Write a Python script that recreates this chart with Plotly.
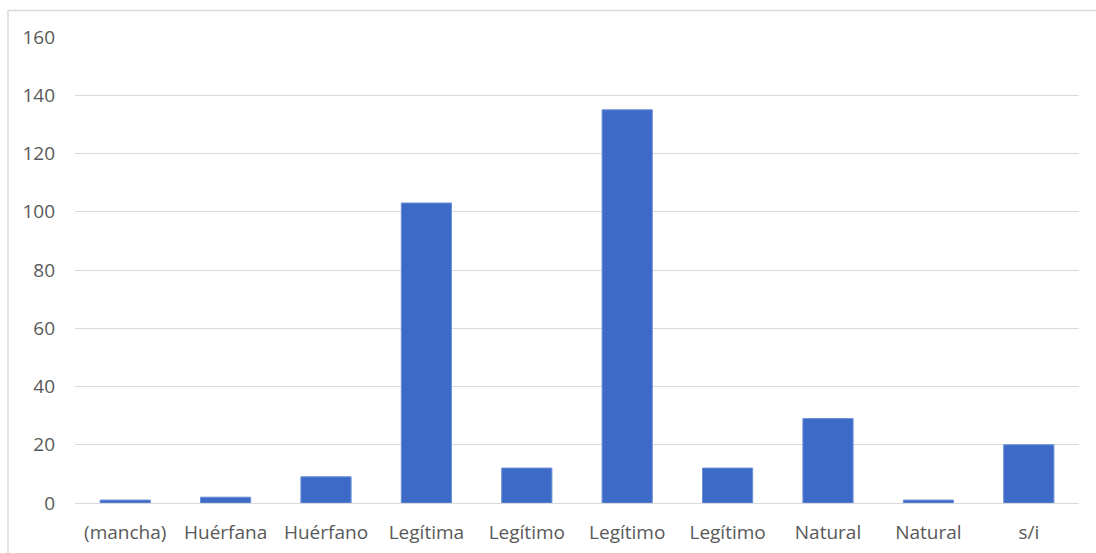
import plotly.graph_objects as go

categories = ["(mancha)", "Huérfana", "Huérfano", "Legítima", "Legítimo",
              "Legítimo", "Legítimo", "Natural", "Natural", "s/i"]
values = [1, 2, 9, 103, 12, 135, 12, 29, 1, 20]
y_ticks = [0, 20, 40, 60, 80, 100, 120, 140, 160]

positions = list(range(len(categories)))

W, H = 1096, 553
L, R, T, B = 75, 17, 37, 50
pw, ph = W - L - R, H - T - B

fig = go.Figure(go.Bar(
    x=positions, y=values,
    marker=dict(color="#3D6AC6", line=dict(color="#6C90D8", width=1)),
    width=0.5,
    hoverinfo="y",
))

fig.update_layout(
    width=W, height=H,
    margin=dict(l=L, r=R, t=T, b=B, autoexpand=False),
    paper_bgcolor="white", plot_bgcolor="white",
    showlegend=False,
    font=dict(family="Open Sans, Lato, sans-serif", size=19, color="#595959"),
    xaxis=dict(
        range=[-0.5, len(categories) - 0.5],
        tickmode="array", tickvals=positions, ticktext=categories,
        showgrid=False, zeroline=False, showline=False, ticks="",
        ticklabelstandoff=16, automargin=False,
        tickfont=dict(size=19, color="#595959"),
    ),
    yaxis=dict(
        range=[0, 160], tickmode="array", tickvals=y_ticks,
        showgrid=True, gridcolor="#D9D9D9", gridwidth=1,
        zeroline=True, zerolinecolor="#D9D9D9", zerolinewidth=1,
        showline=False, ticks="", ticklabelstandoff=19, automargin=False,
        tickfont=dict(size=19, color="#595959"),
    ),
    shapes=[
        dict(type="line", xref="paper", yref="paper",
             x0=(8 - L) / pw, x1=(W + 5 - L) / pw,
             y0=(H - 10.5 - B) / ph, y1=(H - 10.5 - B) / ph,
             line=dict(color="#D9D9D9", width=1.5)),
        dict(type="line", xref="paper", yref="paper",
             x0=(8 - L) / pw, x1=(8 - L) / pw,
             y0=(H - 10.5 - B) / ph, y1=(-10 - B) / ph,
             line=dict(color="#D9D9D9", width=1.5)),
    ],
)

fig.write_html("out.html")
